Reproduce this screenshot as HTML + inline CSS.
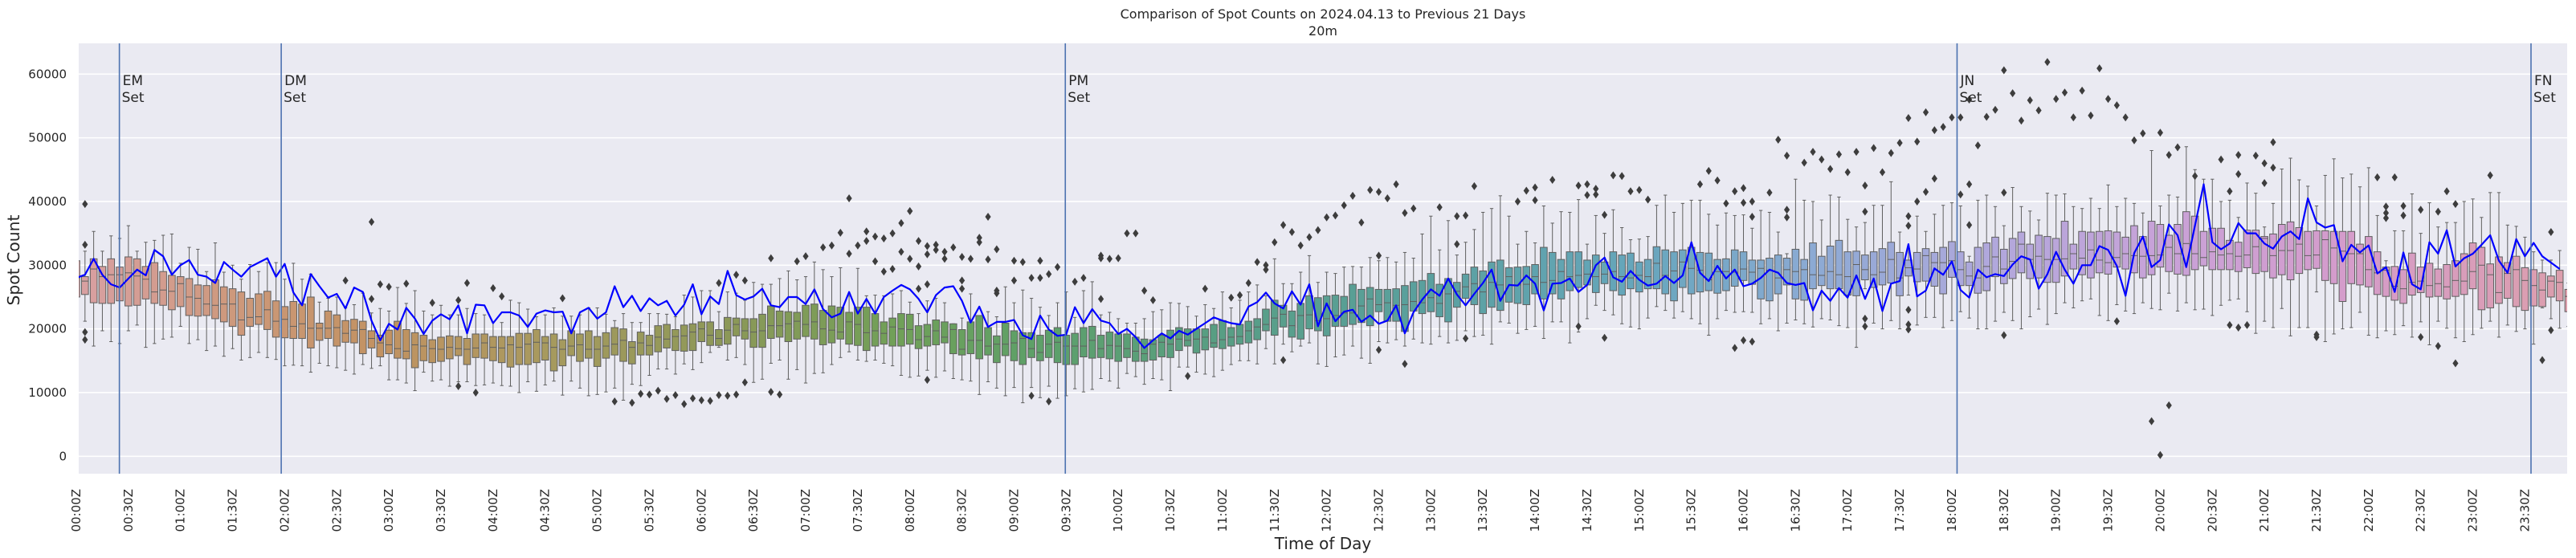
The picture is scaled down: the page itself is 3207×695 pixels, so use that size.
<!DOCTYPE html>
<html><head><meta charset="utf-8"><title>Spot Counts</title>
<style>
html,body{margin:0;padding:0;background:#fff;}
svg{display:block;font-family:"DejaVu Sans","Liberation Sans",sans-serif;}
</style></head>
<body>
<svg id="chart" width="3207" height="695" viewBox="0 0 3207 695" xmlns="http://www.w3.org/2000/svg">
<defs><clipPath id="plotclip"><rect x="98" y="54" width="3098" height="536"/></clipPath></defs>
<rect x="98" y="54" width="3098" height="536" fill="#eaeaf2"/>
<g id="grid"></g>
<g id="boxes" clip-path="url(#plotclip)"></g>
<g id="events" clip-path="url(#plotclip)"></g>
<g id="yticks"></g>
<g id="xticks"></g>
<text x="1647" y="23" text-anchor="middle" font-size="16" fill="#262626">Comparison of Spot Counts on 2024.04.13 to Previous 21 Days</text>
<text x="1647" y="44" text-anchor="middle" font-size="16" fill="#262626">20m</text>
<text x="0" y="0" transform="translate(24,324) rotate(-90)" text-anchor="middle" font-size="20" textLength="113" lengthAdjust="spacingAndGlyphs" fill="#262626">Spot Count</text>
<text x="1647" y="684" text-anchor="middle" font-size="20" fill="#262626">Time of Day</text>
</svg>
<script>
// ---- data (values in thousands of spots), index = 5-minute slot from 00:00Z ----
const whiskerLow = [20.8,21.2,17.3,19.7,18,17.7,19.7,20.6,17.1,17.7,
18.4,18.7,20.4,17.7,18.3,16.6,17.3,15.7,16.9,15.1,
15.5,16.3,15.5,15.2,14.2,14.3,14.2,13.2,14.6,14.2,
13.9,13.5,12.9,14.4,13.8,14.2,12,12,11.5,10.3,
13.2,11.8,12,11,11.7,11.7,11.1,11.2,11.5,11.1,
11,10,11.7,10.2,11.2,11.8,9.6,11.8,10.7,9.5,
9.7,10.1,10.7,8.8,11.3,11.1,12.7,13.7,13.7,12.9,
14.5,13.6,14.7,16.3,17.1,15.1,15.5,14.4,11.6,12.1,
14.6,15.1,12.1,13.6,11.5,13,13.1,14.4,15.5,16.4,
15.1,14.9,15.1,14.6,14.2,12.7,12.4,12.6,13.5,12.4,
13.4,12.2,12,11.8,9.7,11.7,10.7,9.5,10.8,8.4,
10.8,9.2,11,9.1,9.5,10.6,10.1,10.5,12.2,11.8,
10.7,13,12.5,11.3,12.2,12,10.3,14,14,13.2,
12.9,12.5,13.5,14.4,15,15,14.5,16.9,14.5,17.6,
16.4,17.3,17.8,14.5,14.1,15.6,15.9,17.3,15.4,14.6,
18,17.8,18.3,17.3,18.4,17.8,17.6,18.8,17.8,18.2,
19.7,18.8,19,17.6,21.1,20.9,19.3,19.9,20.4,18.5,
21.1,21.1,17.8,19.5,21.6,23.7,22.9,22.2,20.8,20.3,
20,21.7,23.5,22.9,21.7,22.7,21.6,20.8,19,21.6,
22.9,22.6,22.7,22.6,20.8,21.6,19.7,20.9,21.4,20.8,
20.3,21.6,21.4,20.5,20.2,17.1,26.3,20.9,20,21.3,
20,25.3,20.6,21.8,21.8,20.2,21.3,22.7,21.7,20,
20,21.2,22.6,21.3,20,21.9,23.1,20.7,22.4,24.1,
23.3,24.4,24.7,22.1,21.3,23.8,22.8,22.4,24.1,23.2,
23,25.6,22.8,24.1,23,23.1,22.1,23.7,24.5,24.7,
22.7,19.3,21.2,20.2,23.2,18.9,20.2,20.2,25.8,18,
19.2,20,20.2,22.6,19,18.6,19.7,19.1,20.5,18.7,
21.1,17.5,21.2,20.1,18.6,18,19.1,20.1,21.2,18.7,
20.6,19.6,20,17.6,23.3,21.6,20.1,20.4];
const quartile1 = [25,25.4,24.1,24,24,24.4,23.6,23.7,24.7,24,
23.7,23,23.5,22.1,22,22.1,21.6,21.1,20.4,19,
20.4,20.7,19.9,18.7,18.6,18.5,18.5,17,18.2,18.5,
17.3,17.9,17.8,16.1,17,15.6,16.1,15.4,15.3,13.9,
15,14.7,14.9,15.3,15.8,14.4,15.5,15.4,15,14.7,
14,14.4,14.4,14.7,15.1,13.4,14.2,15.8,14.9,15.4,
14.1,15.4,15.9,14.9,14.5,15.9,15.9,16.4,17,16.6,
16.5,16.6,18,17.4,17.4,17.6,18.9,18.4,17.1,17.1,
18.5,18.7,18,18.4,18.8,18.4,17.5,17.8,18.4,17.6,
17.4,16.6,17.3,17.6,17.3,17.3,17.6,16.9,17.3,17.5,
17.8,16.1,15.9,16.1,15.3,15.9,14.7,15.8,15,14.4,
15.5,15,15.5,14.7,14.4,14.4,15.6,15.4,15.5,15.3,
14.9,15.5,14.9,14.9,15.1,15.6,15.5,16.6,17.3,16.2,
16.7,17.1,16.9,17.3,17.6,17.8,18.3,19.7,19,20.3,
18.7,18.4,20,19.7,18.9,20.4,20.4,20.7,21,20.5,
22.7,21.2,21.2,19.6,22.8,22.4,22.7,21.9,21.1,23.4,
24.8,23.8,22.4,23.4,22.9,24.2,24,23.8,25.5,24.7,
25.5,24.7,26,26.5,26.9,25.7,27.1,26,25.3,26.3,
25.8,26.3,26.3,25.5,24.4,26.5,25.5,25.8,26,25.6,
26,26.7,27.6,27,24.7,24.4,25.5,26.9,24.7,24.5,
26.3,26.8,26.3,26.3,25.3,25.2,27.7,26.5,26.9,27.2,
25.2,28.3,27.4,27.5,26.7,25.5,28.1,26.8,26.8,25.6,
26,28.2,27.1,27.9,28.8,27.9,28,27.3,27.3,28.3,
29.4,28.5,28,28.8,28.6,29.7,29.4,28.8,28,28.5,
29.7,29,28.6,28.4,29.3,29.9,29.3,29.3,29.3,29,
29.6,28.7,29,28,28.5,27.7,28.7,29.3,29.5,27.6,
27.1,24.3,27.1,26.9,26.6,25.4,25.1,24.5,24,25.3,
25.7,25,25.1,24.7,25.1,25.4,26.3,23,23.3,24,
24.8,23.5,22.9,23.6,23.5,25,24.4,22.7];
const medians = [28,27.5,29.4,28.2,28.5,28.5,28.8,28.3,27.8,25.8,
26.1,25.9,27.1,25,24.8,23.9,23.7,23.9,23.9,21.4,
21.8,21.9,23,21.2,21.5,20.4,20.8,20.1,20.1,20.1,
20.2,19.3,19.8,19.9,18.5,17.8,17.5,16.9,16.5,17.5,
17.3,16.9,16.8,17.1,16.9,16.8,17,17.8,17.1,17,
17.5,17.1,17.6,17.9,17.8,17.1,16.8,17.3,17.5,16.8,
16.8,17.3,17.6,18.2,17.1,17.8,17.4,18.7,18.4,18.8,
18.9,19.5,20,19,18.5,19.8,20.7,19.7,19.5,19.7,
20.5,20.5,20.8,21.2,20.7,21.1,20,19.8,19.5,21.1,
20.7,19.4,19.7,19.3,20.3,20,19.9,18.3,18.8,19.7,
18.7,19.9,16.8,18.2,18.2,17.3,17.6,17.6,17.8,18.5,
16.9,16.3,17.6,17.9,17.3,17.3,17.3,18.2,16.9,17.4,
17.3,16.9,16.5,16.1,17.6,17.9,17.6,18.4,18.2,18.4,
18.7,17.8,18.3,18.7,18.8,19.7,20.3,20.7,21.7,22.3,
20.5,22.1,22.2,21.3,21.6,22.1,22.5,22.5,23.6,24.7,
23.8,24.1,23.7,23.8,24.3,24.1,24.9,24,25.5,25.9,
26.6,27.1,25.8,27.3,26.9,28.2,26.9,27,28.2,27.3,
27.6,29,28.2,28.4,28.6,28.2,28.6,29,28.2,28,
28.4,28.2,30.3,28.4,29.1,30.5,29.5,29.2,27.7,29,
29,28.9,29.4,28.9,29.5,29.2,28,29.3,29,29.3,
28.5,28.4,29,28.5,28.2,30.1,29.3,28.5,28.9,30.9,
28,29.6,29.4,31.5,30.4,30.4,30.7,29.3,28.3,28,
29.8,31.3,29.4,30.6,33.3,30.9,31.4,30.9,30.9,31,
31.8,31.1,32.4,30.8,30.4,31.2,31.8,31.5,31.4,31.5,
31.6,32.8,31.8,33.4,31.8,31.2,32.1,31.6,31.8,31.4,
31.6,32.9,34.2,31.5,32.3,32.3,33.3,31.5,31.6,34,
32.7,32.2,31.8,31.8,29.3,28.8,29.2,26.7,26.3,27.3,
27.5,26.8,27.1,26.6,27.6,27.5,29,30,28.5,25.7,
28.7,29.3,27.6,26.8,26.1,27.5,27.3,25.1];
const quartile3 = [30.7,28.2,31,29.8,31,29.7,31.3,31,29.8,30.4,
29,28.4,28.2,27.9,26.9,26.8,27.7,26.6,26.3,25.8,
24.8,25.5,25.9,24.4,23.5,24.3,23.9,25,20.9,22.8,
22.2,21.3,21.5,21.2,19.7,19,19.8,21.2,19.9,19.4,
19,18.3,18.7,18.9,18.8,18.5,19.2,19.2,18.8,18.8,
18.8,19.3,19.3,19.9,18.8,19.2,18.3,19.7,19.2,19.7,
18.8,19.4,20.2,20,18,19.5,19,20.5,20.7,19.9,
20.6,20.8,21.1,21.1,19.9,21.8,21.7,21.6,21.6,22.3,
23.6,22.8,22.7,22.6,23.7,23.9,22.9,23.6,23.4,22.6,
23.4,23.4,22.4,21.1,21.7,22.4,22.3,20.5,20.7,21.4,
21.1,20.8,19.9,21.1,22.1,20.2,18.9,20.9,19.7,19.4,
19.4,19,19.8,20.2,19,19.3,20.2,20.4,19,19.5,
19.2,19.2,18.7,18.4,18.3,19,19.8,20.2,20,20,
20,20.7,21.3,20.2,20.7,21.2,21.6,23.1,24.5,23.7,
22.8,24,25.2,24.9,25.2,25.3,25.1,27,26.2,26.5,
26.2,26.2,26.3,26.8,27.4,27.6,28.7,27,27.9,27.3,
28.6,29.7,29.1,30.5,30.8,29.6,29.7,29.8,30.1,32.8,
32,30.9,32.1,32.1,30.8,31.6,30.5,32.1,31.6,31.9,
30.5,30.9,32.9,32.4,32.1,32.4,32.8,32,31.9,30.9,
31,32.4,32.1,30.8,30.8,31.1,31.6,31.1,32.5,30.9,
33.5,31.4,33,33.9,32.1,32.2,31.6,32.1,32.6,33.6,
32,30.8,32,32.6,32,32.8,33.7,32.1,30.5,32.8,
33.5,34.4,32.5,34.2,35.2,33.3,34.7,34.5,34.2,36.9,
33.3,35.3,35.2,35.3,35.4,35.2,34.4,36.2,34.5,36.9,
36.4,34.7,36.4,38.4,37.7,35.3,35.8,35.8,33.9,33.6,
35.5,35.5,34.5,34.9,36.4,36.8,35.9,35.3,35.4,35.4,
35.3,35.3,35.3,33.3,34.5,32.1,29.7,29.8,29.3,31.9,
29.7,30.3,29.4,30.1,30.7,31.8,33.5,32.8,30.2,31.3,
30.4,31.4,29.6,29.3,28.8,28.3,29.2,26.2];
const whiskerHigh = [35.3,32.2,35.3,32.2,34.6,34.2,36.2,32.2,33.6,33.9,
34.7,34.9,30.3,32.8,32.5,29,33.5,28.9,30,27.8,
30.1,29,30.4,30.4,27.8,30.3,27.8,28.6,24.2,24.8,
25,23.3,23.8,25.6,22.5,23.2,22.8,26.5,24,26,
22.8,22.2,23.7,22.2,22.2,23.2,22.4,22.2,21.1,21,
24.5,24.1,23.1,21.9,22.2,23.3,22,22,22.2,23.3,
23.3,22.3,21.3,22.4,21,21,22.4,22.4,22.3,21.9,
25.3,25,26,26,22.7,25.8,25.6,24.5,27.3,27,
27,27.9,29.1,27.7,28.2,30.5,29.3,28.2,29.6,25.2,
29.5,25.2,25.3,25.2,25.5,26,24.2,22.4,24.4,24.8,
24.1,20.8,21.7,25.5,21.9,22.7,21.9,26.6,24.1,26.1,
24.8,23.4,22.1,24.1,25.8,21.8,26,27.4,22.2,22.6,
21.6,20.9,20.9,21.6,22.7,23,24.1,24,23.5,22,
23.8,23.2,25.8,23.3,24.5,25.8,26.9,25.2,31,27.1,
27.1,28.9,31.5,27.3,28.9,28.7,29.7,29.8,29.7,31.2,
30.7,31.2,30.5,32,31.1,34.9,37.7,32.4,37,31.6,
33.6,35.6,38.3,38.9,40.9,37.7,33.3,35.3,33.5,39.3,
36.6,38.4,38.3,40.3,33.3,37.8,35,38.7,35.9,34,
34.1,34.5,39.4,41,38.3,39.7,40.2,40.2,38,36.3,
38.2,37.8,37.9,35.8,38.6,38.3,35.2,31.8,43.5,40.2,
40,37.1,41,40.7,37.2,36,36.7,39.4,39.4,43.1,
35.2,32.6,37.7,35.3,38,39.4,39.8,39.3,31.4,40.2,
41,39.2,36.2,42.2,39.2,38.5,37.1,41.3,41,41.2,
39.2,38.9,40.5,38.9,42.6,39.2,40.5,39.7,38.2,48,
39.3,41,40.7,48.6,45,43.5,43.5,40,40.2,37.5,
42.9,41.3,36,39.7,45.1,46.8,43.4,42.4,39.3,44.1,
46.7,43.7,44.3,42.3,45.3,37.8,30.7,35.4,35.4,41.2,
35,39.8,36,36.7,36.7,40,40.4,37.5,41.4,41.4,
36.3,36.1,34.4,32.1,30.8,30.8,32.3,27.2];
const todayCounts = [28,28.5,31,28.5,27,26.5,27.9,29.3,28.4,32.4,
31.4,28.5,30,30.8,28.5,28.2,27.2,30.5,29.3,28.2,
29.7,30.4,31.1,28.2,30.2,25.7,23.7,28.6,26.7,24.9,
25.5,23.2,26.5,25.8,21.3,18.2,20.8,19.9,23.3,21.6,
19.2,21.3,22.3,21.5,23.7,19.3,23.8,23.7,20.9,22.6,
22.6,22.1,20.3,22.4,22.9,22.6,22.7,19.3,22.6,23.3,
21.6,22.6,26.7,23.4,25.2,22.8,24.8,23.7,24.4,22.1,
23.8,27,22.3,25.1,23.9,29.1,25.3,24.6,25.1,26.3,
23.7,23.4,25,25,23.9,26.2,23.1,21.8,22.4,25.8,
22.4,24.7,22.4,25,26,26.9,26.2,24.7,22.6,25.3,
26.5,26.7,24.4,21,23.5,20.3,21.1,21.1,21.4,19,
18.4,22.1,19.9,18.9,19.1,23.4,20.9,23.1,21.3,20.9,
19.2,20,18.7,17,18.2,19.3,18.5,19.7,19.1,20,
20.9,21.8,21.3,20.9,20.7,23.5,24.2,25.7,24,23.2,
25.9,23.8,27,20.4,24,21.2,22.7,23,21.1,22.1,
20.8,21.3,23.7,19.3,22.6,24.6,26.2,25.2,27.9,25.4,
23.7,25.5,27.2,29.3,24.4,26.9,26.8,28.4,27.1,22.9,
27.1,27.2,27.9,25.8,26.9,30,31.2,28.1,27.4,29.1,
27.7,26.8,27.1,28.3,27.2,28.4,33.6,28.8,27.5,29.9,
27.9,29.3,26.7,27.1,28,29.3,28.8,27.2,26.9,27.2,
22.9,26,24.4,26.4,24.9,28.4,24.7,27.9,22.8,27.1,
27.5,33.3,25.1,26,29.5,28.5,30.6,26.1,24.9,29.3,
28.1,28.6,28.3,30.1,31.4,30.9,26.3,28.6,32.1,29.3,
27.1,30,30,33,32.4,29.9,25.2,31.9,34.5,29.7,
30.8,36.4,34.7,29.7,36.2,42.7,33.6,32.5,33.4,36.6,
35,35,33.4,32.6,34.5,35.3,34.1,40.5,36.7,35.9,
36.3,30.6,33.2,32,33.1,28.7,29.7,25.8,32,27,
26.2,33.6,31.8,35.5,29.8,31.1,31.8,33.2,34.7,30.7,
28.8,34.1,31.4,33.5,31.4,30.4,29.4];
const outlierSlot = [1,1,1,1,31,34,34,35,36,38,41,44,44,45,46,48,49,56,62,64,65,66,67,68,69,70,71,72,73,74,74,75,76,76,77,77,
80,80,81,83,84,86,87,88,89,89,90,91,91,92,92,93,93,94,94,95,95,96,96,97,97,97,98,98,98,98,99,99,100,100,101,102,102,102,103,104,104,105,105,106,106,106,108,108,109,110,110,111,111,112,112,113,115,116,118,118,118,119,120,121,122,123,124,128,
130,133,134,135,136,137,137,138,139,139,140,141,142,143,144,145,146,147,148,149,150,150,150,151,152,153,153,154,157,159,159,160,160,161,166,167,168,168,170,173,173,174,174,175,175,176,176,177,178,179,
180,181,187,188,189,190,191,191,192,192,192,193,193,193,195,196,197,197,197,199,200,201,202,203,204,205,206,206,206,206,207,208,209,210,211,211,211,211,211,211,212,212,213,213,214,214,215,216,217,217,218,218,218,219,220,221,222,222,222,223,224,225,226,227,228,229,230,
231,232,233,234,235,235,236,237,238,240,241,242,239,241,240,244,247,248,248,249,249,249,250,251,252,252,253,253,258,258,
265,266,266,266,267,268,268,270,270,272,272,273,274,274,278,284,285,285];
const outlierValue = [39.6,33.2,19.5,18.3,27.6,36.8,24.7,27,26.6,27.1,24.1,24.5,11,27.2,10,26.4,25.1,24.8,8.6,8.4,9.8,9.7,10.3,9,9.6,8.2,9.1,8.8,8.7,27.2,9.6,9.5,28.5,9.7,27.6,11.6,
10.1,31.1,9.7,30.6,31.4,32.8,33.1,35.1,40.5,31.8,33.1,35.3,33.8,34.5,30.6,34.2,29,35,29.4,36.6,32.1,38.5,31,33.8,29.8,26.3,33,31.7,27,12,33.2,32.4,32.1,31,32.8,31.3,27.6,26.3,31,34.3,33.6,37.6,30.9,32.5,26,25.6,30.7,27.6,30.5,28,9.5,30.7,28,28.6,8.6,29.7,27.4,28,31.5,31.1,24.7,31,31.1,35,35,26,24.5,12.6,
26.3,24.9,25.3,27.2,30.5,30,29.3,33.6,36.3,15.1,35.2,33.1,34.4,35.5,37.5,37.8,39.4,40.9,36.7,41.8,41.5,31.5,16.7,40.5,42.7,38.2,14.5,38.9,39.1,37.7,33.3,37.8,18.5,42.4,40,41.7,42.2,40.2,43.4,42.5,20.4,42.7,41,42,41.1,37.9,18.6,44.1,44,41.6,
41.8,40.3,42.7,44.8,43.3,39.7,41.6,17,42.1,39.8,18.2,40,37.6,18,41.4,49.7,47.2,38.7,37.5,46.1,47.8,46.6,45.1,47.4,44.6,47.8,42.5,38.4,21.6,20.4,48.4,44.6,47.6,49.2,53.1,37.7,36.2,23,20.7,19.9,49.4,40,54,41.5,51.2,43.6,51.7,53.2,53.2,41.1,56,42.7,36.3,48.8,53.3,54.4,60.6,41.4,19,57,52.7,55.9,54.3,61.9,56.1,57.1,53.2,
57.4,53.5,60.9,56.1,55.1,21.2,53.2,49.6,50.7,50.8,47.3,48.5,5.5,8,0.2,44,46.6,41.6,20.6,47.3,44.3,20.2,20.6,47.2,46,42.9,49.3,45.3,19.1,18.7,
43.8,39.2,38.2,37.4,43.8,39.3,37.8,38.7,18.7,38.4,17.3,41.6,39.6,14.6,44.1,15.1,35.2,19.8];
const eventNames = ["EM","DM","PM","JN","FN"];
const eventSlot = [4.96,23.6,113.9,216.6,282.7];
const yTickValues = [0,10000,20000,30000,40000,50000,60000];

// ---- scales ----
const SLOT_W = 10.81, X0 = 95;
function xScale(i){ return X0 + i*SLOT_W; }
function yScale(k){ return 92.3 + (60 - k)*7.933; } // k = thousands
const NS = "http://www.w3.org/2000/svg";
function mk(tag, attrs, parent){ const e=document.createElementNS(NS,tag); for(const a in attrs) e.setAttribute(a,attrs[a]); parent.appendChild(e); return e; }

// palette anchors (style)
const pal = [[0,[217,160,163]],[20,[204,152,120]],[35,[194,146,98]],[55,[166,154,94]],[75,[140,152,88]],[95,[112,160,88]],[110,[94,160,104]],[130,[88,158,130]],[155,[90,160,158]],[180,[102,166,188]],[200,[140,170,212]],[220,[176,168,220]],[240,[200,162,216]],[260,[212,156,204]],[287,[220,158,172]]];
function colorAt(i){
  for(let p=0;p<pal.length-1;p++){
    const [a,ca]=pal[p],[b,cb]=pal[p+1];
    if(i>=a && i<=b){ const t=(i-a)/(b-a); return 'rgb('+ca.map((c,j)=>Math.round(c+(cb[j]-c)*t)).join(',')+')'; }
  }
  return 'rgb(220,158,172)';
}

const svg = document.getElementById('chart');
const grid = document.getElementById('grid');
const yt = document.getElementById('yticks');
yTickValues.forEach(v=>{
  const y = yScale(v/1000);
  const gl = mk('line',{x1:98,x2:3196,y1:y,y2:y,stroke:'#ffffff','stroke-width':1.6},grid);
  
  
  const t = mk('text',{x:83,y:y,'text-anchor':'end','dominant-baseline':'central','font-size':15,fill:'#262626'},yt);
  
  
  t.textContent = String(v);
});

const xt = document.getElementById('xticks');
for(let i=0;i<288;i+=6){
  const x = xScale(i);
  const hh = String(Math.floor(i/12)).padStart(2,'0'), mm = String((i%12)*5).padStart(2,'0');
  const t = mk('text',{x:x,y:609,'text-anchor':'end','dominant-baseline':'central','font-size':15,fill:'#262626',transform:'rotate(-90 '+x+' 609)'},xt);
  
  
  t.textContent = hh+':'+mm+'Z';
}

const bg = document.getElementById('boxes');
const BW = 8.6, CAP = 4.3, EDGE = '#5f5f5f';
for(let i=0;i<288;i++){
  const x = xScale(i);
  const g = mk('g',{},bg);
  
  
  const yl=yScale(whiskerLow[i]), yh=yScale(whiskerHigh[i]), y1=yScale(quartile1[i]), y3=yScale(quartile3[i]), ym=yScale(medians[i]);
  mk('line',{x1:x,x2:x,y1:y1,y2:yl,stroke:EDGE,'stroke-width':1},g);
  mk('line',{x1:x,x2:x,y1:y3,y2:yh,stroke:EDGE,'stroke-width':1},g);
  mk('line',{x1:x-CAP/2,x2:x+CAP/2,y1:yl,y2:yl,stroke:EDGE,'stroke-width':1},g);
  mk('line',{x1:x-CAP/2,x2:x+CAP/2,y1:yh,y2:yh,stroke:EDGE,'stroke-width':1},g);
  mk('rect',{x:x-BW/2,y:y3,width:BW,height:Math.max(0.5,y1-y3),fill:colorAt(i),stroke:EDGE,'stroke-width':1},g);
  mk('line',{x1:x-BW/2,x2:x+BW/2,y1:ym,y2:ym,stroke:EDGE,'stroke-width':1},g);
}
for(let j=0;j<outlierSlot.length;j++){
  const x = xScale(outlierSlot[j]), y = yScale(outlierValue[j]);
  const d = mk('path',{d:'M'+x+' '+(y-5)+'L'+(x+3.6)+' '+y+'L'+x+' '+(y+5)+'L'+(x-3.6)+' '+y+'Z',fill:'#3d3d3d'},bg);
  
  
}
const pts = todayCounts.map((v,i)=>xScale(i).toFixed(1)+','+yScale(v).toFixed(1)).join(' ');
const pl = mk('polyline',{points:pts,fill:'none',stroke:'#0000ff','stroke-width':2.2,'stroke-linejoin':'round'},bg);



const ev = document.getElementById('events');
eventSlot.forEach((s,k)=>{
  const x = xScale(s);
  const l = mk('line',{x1:x,x2:x,y1:54,y2:590,stroke:'#4c72b0','stroke-width':1.6},ev);
  
  
  const t1 = mk('text',{x:x+4,y:106,'font-size':17,fill:'#262626'},ev);
  
  
  t1.textContent = eventNames[k];
  const t2 = mk('text',{x:x+3,y:127,'font-size':17,fill:'#262626'},ev);
  
  
  t2.textContent = 'Set';
});
</script>
</body></html>
